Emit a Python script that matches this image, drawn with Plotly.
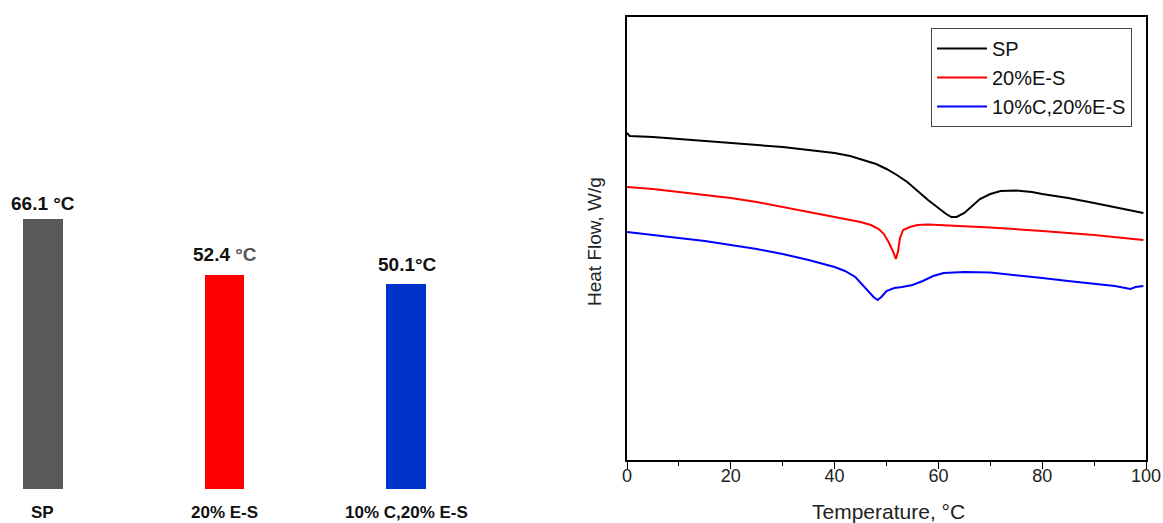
import plotly.graph_objects as go

W, H = 1163, 523

# ---- Left panel: bar data ----
bar_categories = ["SP", "20% E-S", "10% C,20% E-S"]
bar_values = [66.1, 52.4, 50.1]
bar_labels = ["66.1 °C", "52.4 <span style='color:#555555'>°C</span>", "50.1°C"]
bar_colors = ["#595959", "#ff0000", "#0033cc"]

# ---- Right panel: DSC curves (temperature in °C, heat flow in arbitrary W/g) ----
sp_T = [0, 0.5, 5, 10, 15, 20, 25, 30, 35, 40, 43, 46, 48, 50, 52, 54, 56, 58, 60, 61.5, 62.5,
        63.5, 65, 66.5, 68, 70, 72, 75, 78, 80, 85, 90, 95, 99.5]
sp_px = [133, 136, 137, 139, 141, 143, 145, 147, 150, 153, 156, 161, 164, 169, 175, 182, 191, 200,
         208, 214, 217, 217, 213, 206, 199, 194, 191, 190.5, 192, 194, 198, 203, 208, 213]

es_T = [0, 5, 10, 15, 20, 25, 30, 35, 40, 43, 45, 47, 48.5, 49.5, 50.5, 51.3, 51.8, 52.2, 52.6,
        53.2, 54.5, 56, 58, 60, 65, 70, 80, 90, 99.5]
es_px = [187, 189, 192, 195, 198, 202, 207, 212, 217, 220, 222, 225, 229, 234, 243, 252, 259, 252,
         238, 230, 227, 225, 224.5, 225, 226, 227.5, 231, 235, 240]

ces_T = [0, 5, 10, 15, 20, 25, 30, 35, 40, 42, 44, 45.5, 46.5, 47.5, 48.3, 49, 50, 51.5, 53, 55,
         57, 59, 61, 65, 70, 75, 80, 85, 90, 94, 96, 97, 98, 99.5]
ces_px = [232, 235, 238, 241, 245, 249, 254, 260, 267, 271, 277, 286, 292, 297, 300, 297, 291, 288,
          287, 285, 281, 276, 273, 272, 272.5, 275, 278, 281, 283.5, 286, 288, 289, 287, 286]

# heat flow values (arbitrary units)
sp_hf = [round((460 - p) / 100, 3) for p in sp_px]
es_hf = [round((460 - p) / 100, 3) for p in es_px]
ces_hf = [round((460 - p) / 100, 3) for p in ces_px]

FONT = "Liberation Sans, Arial, sans-serif"

def px_x(p):
    return p / W

def px_y(p):
    return 1 - p / H

fig = go.Figure()

# Bars
fig.add_trace(go.Bar(
    x=[0, 1, 2], y=bar_values, width=0.22,
    marker=dict(color=bar_colors, line=dict(width=0)),
    xaxis="x", yaxis="y", showlegend=False, hoverinfo="skip",
))

# Curves
fig.add_trace(go.Scatter(x=sp_T, y=sp_hf, mode="lines", name="SP",
                         line=dict(color="#000000", width=2), xaxis="x2", yaxis="y2"))
fig.add_trace(go.Scatter(x=es_T, y=es_hf, mode="lines", name="20%E-S",
                         line=dict(color="#ff0000", width=2), xaxis="x2", yaxis="y2"))
fig.add_trace(go.Scatter(x=ces_T, y=ces_hf, mode="lines", name="10%C,20%E-S",
                         line=dict(color="#0000ff", width=2), xaxis="x2", yaxis="y2"))

# left bar panel geometry: bar 0 center at 43px, spacing 181.5px; baseline at 489px
unit = 181.5
left_dom = [0, px_x(488)]
fig.update_layout(
    xaxis=dict(domain=left_dom, range=[-43 / unit, (488 - 43) / unit],
               visible=False, fixedrange=True),
    yaxis=dict(domain=[px_y(489), px_y(17)], range=[0, (489 - 17) / 4.09],
               visible=False, fixedrange=True),
    xaxis2=dict(domain=[px_x(627), px_x(1146)], range=[0, 100], anchor="y2",
                showline=True, linecolor="#000000", linewidth=1.5, mirror=True,
                ticks="outside", ticklen=7, tickwidth=1.2, tickcolor="#000000",
                tickvals=[0, 20, 40, 60, 80, 100],
                minor=dict(tickvals=[10, 30, 50, 70, 90], ticks="outside", ticklen=4,
                           tickcolor="#000000", tickwidth=1.2),
                showgrid=False, zeroline=False, automargin=False,
                ticklabelstandoff=-8,
                tickfont=dict(family=FONT, size=18, color="#222222")),
    yaxis2=dict(domain=[px_y(460), px_y(17)], range=[0, 4.43], anchor="x2",
                showline=True, linecolor="#000000", linewidth=2, mirror=True,
                showticklabels=False, ticks="", showgrid=False, zeroline=False,
                automargin=False),
)

annotations = []
# value labels above bars
val_pos = [(43, 203), (225, 254), (407, 264)]
for (x, y), t in zip(val_pos, bar_labels):
    annotations.append(dict(x=px_x(x), y=px_y(y), xref="paper", yref="paper", text="<b>" + t + "</b>",
                            showarrow=False, xanchor="center", yanchor="middle",
                            font=dict(family=FONT, size=19, color="#111111")))
# category labels
cat_pos = [43, 224, 406]
for x, t in zip(cat_pos, bar_categories):
    annotations.append(dict(x=px_x(x), y=px_y(512), xref="paper", yref="paper", text="<b>" + t + "</b>",
                            showarrow=False, xanchor="center", yanchor="middle",
                            font=dict(family=FONT, size=17, color="#111111")))
# axis titles for right panel
annotations.append(dict(x=px_x(888), y=px_y(511), xref="paper", yref="paper",
                        text="Temperature, °C", showarrow=False, xanchor="center", yanchor="middle",
                        font=dict(family=FONT, size=21, color="#222222")))
annotations.append(dict(x=px_x(594), y=px_y(242), xref="paper", yref="paper",
                        text="Heat Flow, W/g", showarrow=False, textangle=-90,
                        xanchor="center", yanchor="middle",
                        font=dict(family=FONT, size=19, color="#222222")))

fig.update_layout(
    width=W, height=H, autosize=False,
    margin=dict(l=0, r=0, t=0, b=0, pad=0, autoexpand=False),
    paper_bgcolor="white", plot_bgcolor="white",
    annotations=annotations,
    showlegend=True,
    legend=dict(x=px_x(931), y=px_y(28), xanchor="left", yanchor="top",
                bordercolor="#444444", borderwidth=1, bgcolor="white",
                font=dict(family=FONT, size=20, color="#111111"),
                tracegroupgap=0, itemwidth=50),
    bargap=0,
)

fig.write_html(
    "out.html",
    config={"displayModeBar": False},
    post_script=(
        "document.documentElement.style.margin='0';"
        "document.documentElement.style.overflow='hidden';"
        "document.body.style.margin='0';"
        "document.body.style.overflow='hidden';"
    ),
)
